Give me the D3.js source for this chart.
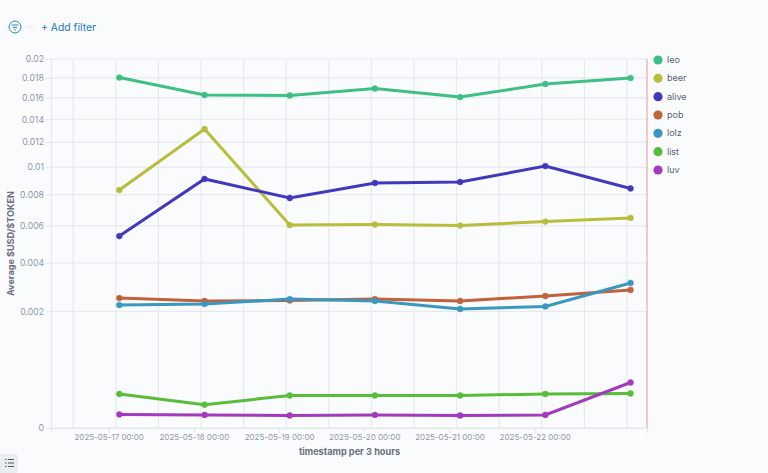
<!DOCTYPE html>
<html>
<head>
<meta charset="utf-8">
<script src="https://cdn.jsdelivr.net/npm/d3@7"></script>
<style>
  html, body { margin: 0; padding: 0; background: #fafbfd; }
  svg { display: block; font-family: Inter, sans-serif; }
</style>
</head>
<body>
<div id="chart"></div>
<script>
const timestamps = ['2025-05-17T03:00Z', '2025-05-18T03:00Z', '2025-05-19T03:00Z', '2025-05-20T03:00Z', '2025-05-21T03:00Z', '2025-05-22T03:00Z', '2025-05-23T03:00Z'];
const names = ['leo', 'beer', 'alive', 'pob', 'lolz', 'list', 'luv'];
const colors = ['#3dbf86', '#b9bd3c', '#4338bd', '#c0623a', '#3a98c0', '#58bd38', '#a23abd'];

const leo = [0.01804, 0.01629, 0.01624, 0.01693, 0.01609, 0.01738, 0.01799];
const beer = [0.00832, 0.01313, 0.00605, 0.00608, 0.00602, 0.00626, 0.00648];
const alive = [0.00541, 0.00911, 0.00777, 0.00882, 0.00889, 0.01008, 0.00843];
const pob = [0.00248, 0.00237, 0.00239, 0.00244, 0.00237, 0.00256, 0.0028];
const lolz = [0.00222, 0.00226, 0.00244, 0.00237, 0.00208, 0.00217, 0.00309];
const list = [0.00017, 0.00008, 0.000155, 0.000155, 0.000155, 0.00017, 0.000175];
const luv = [0.000027, 0.000025, 0.000023, 0.000025, 0.000023, 0.000025, 0.000304];
const seriesValues = [leo, beer, alive, pob, lolz, list, luv];

const yTicks = [0, 0.002, 0.004, 0.006, 0.008, 0.01, 0.012, 0.014, 0.016, 0.018, 0.02];
const xTicks = ['2025-05-17', '2025-05-18', '2025-05-19', '2025-05-20', '2025-05-21', '2025-05-22'];
const xDomain = ['2025-05-16T07:45Z', '2025-05-23T07:38Z'];

const width = 768;
const height = 473;
const margin = { top: 59, right: 121, bottom: 45, left: 51 };

const svg = d3.select('#chart')
  .append('svg')
  .attr('width', width)
  .attr('height', height);

// Scales (the value axis is a square root one)
const x = d3.scaleUtc()
  .domain(xDomain.map((d) => new Date(d)))
  .range([margin.left, width - margin.right]);

const y = d3.scalePow()
  .exponent(0.5)
  .domain([0, 0.02])
  .range([height - margin.bottom, margin.top]);

// Grid lines, every 12 hours with a 2 hour offset
const gridTimes = d3.utcHour.range(new Date('2025-05-16T14:00Z'), new Date(xDomain[1]), 12);

svg.append('g')
  .selectAll('line')
  .data(gridTimes)
  .enter()
  .append('line')
  .attr('x1', (d) => x(d))
  .attr('x2', (d) => x(d))
  .attr('y1', y(0))
  .attr('y2', y(0.02))
  .attr('stroke', '#e7e9ed')
  .attr('stroke-width', 1.2);

svg.append('g')
  .selectAll('line')
  .data(yTicks)
  .enter()
  .append('line')
  .attr('x1', margin.left)
  .attr('x2', width - margin.right)
  .attr('y1', (d) => y(d))
  .attr('y2', (d) => y(d))
  .attr('stroke', '#e7e9ed')
  .attr('stroke-width', 1.2);

// Axes
const xAxis = svg.append('g')
  .attr('transform', `translate(0,${y(0)})`)
  .call(d3.axisBottom(x)
    .tickValues(xTicks.map((d) => new Date(d + 'T00:00Z')))
    .tickFormat(d3.utcFormat('%Y-%m-%d %H:%M'))
    .tickSize(5)
    .tickPadding(1)
    .tickSizeOuter(5));

const yAxis = svg.append('g')
  .attr('transform', `translate(${margin.left},0)`)
  .call(d3.axisLeft(y)
    .tickValues(yTicks)
    .tickFormat((d) => String(d))
    .tickSize(5)
    .tickPadding(2)
    .tickSizeOuter(0));

[xAxis, yAxis].forEach((axis) => {
  axis.selectAll('path, line').attr('stroke', '#e4e7ec').attr('stroke-width', 1.2);
  axis.selectAll('text')
    .attr('fill', '#8f98a8')
    .style('font-family', 'Inter, sans-serif');
});
xAxis.selectAll('text').style('font-size', '8px');
yAxis.selectAll('text').style('font-size', '8.7px');

// Axis titles
svg.append('text')
  .attr('x', 349.5)
  .attr('y', 454.5)
  .attr('text-anchor', 'middle')
  .attr('fill', '#69707d')
  .style('font-size', '9.2px')
  .style('font-weight', 700)
  .text('timestamp per 3 hours');

svg.append('text')
  .attr('transform', 'translate(13.5,243.5) rotate(-90)')
  .attr('text-anchor', 'middle')
  .attr('fill', '#69707d')
  .style('font-size', '9.1px')
  .style('font-weight', 700)
  .text('Average $USD/$TOKEN');

// Current time marker
svg.append('line')
  .attr('x1', width - margin.right)
  .attr('x2', width - margin.right)
  .attr('y1', y(0))
  .attr('y2', y(0.02))
  .attr('stroke', '#edb5b0')
  .attr('stroke-width', 1.4);

// Lines and points
const line = d3.line()
  .x((_, i) => x(new Date(timestamps[i])))
  .y((d) => y(d));

const series = svg.selectAll('.series')
  .data(seriesValues)
  .enter()
  .append('g')
  .attr('class', 'series')
  .attr('fill', (_, i) => colors[i])
  .attr('stroke', (_, i) => colors[i]);

series.append('path')
  .attr('d', (d) => line(d))
  .attr('fill', 'none')
  .attr('stroke-width', 3);

series.selectAll('circle')
  .data((d) => d)
  .enter()
  .append('circle')
  .attr('cx', (_, i) => x(new Date(timestamps[i])))
  .attr('cy', (d) => y(d))
  .attr('r', 2.9)
  .attr('stroke-width', 0.6);

// Legend
const legendY = d3.scalePoint()
  .domain(names)
  .range([60, 170]);

const legend = svg.selectAll('.legend')
  .data(names)
  .enter()
  .append('g')
  .attr('class', 'legend')
  .attr('transform', (d) => `translate(0,${legendY(d)})`);

legend.append('circle')
  .attr('cx', 658)
  .attr('r', 4.6)
  .attr('fill', (_, i) => colors[i]);

legend.append('text')
  .attr('x', 667)
  .attr('dy', '.35em')
  .attr('fill', '#5a6070')
  .style('font-size', '9px')
  .text((d) => d);

// Filter bar
const filterIcon = svg.append('g')
  .attr('transform', 'translate(15,27)')
  .attr('fill', 'none')
  .attr('stroke', '#2f86c4')
  .attr('stroke-width', 1);

filterIcon.append('circle').attr('r', 6);
filterIcon.append('path').attr('d', 'M-3.5 -2H3.5M-2.2 0.4H2.2M-0.9 2.8H0.9');

svg.append('line')
  .attr('x1', 26)
  .attr('x2', 34)
  .attr('y1', 27)
  .attr('y2', 27)
  .attr('stroke', '#e3e6eb')
  .attr('stroke-width', 1);

svg.append('text')
  .attr('x', 41)
  .attr('y', 31)
  .attr('fill', '#1f78b8')
  .style('font-size', '10.4px')
  .text('+ Add filter');

// Legend toggle button in the corner
svg.append('rect')
  .attr('x', -4)
  .attr('y', 454)
  .attr('width', 22)
  .attr('height', 19)
  .attr('rx', 3)
  .attr('fill', '#e9ecf1');

svg.append('path')
  .attr('d', 'M5 459.5H6.5M8 459.5H14M5 463H6.5M8 463H14M5 466.5H6.5M8 466.5H14')
  .attr('stroke', '#505866')
  .attr('stroke-width', 1)
  .attr('fill', 'none');
</script>
</body>
</html>
